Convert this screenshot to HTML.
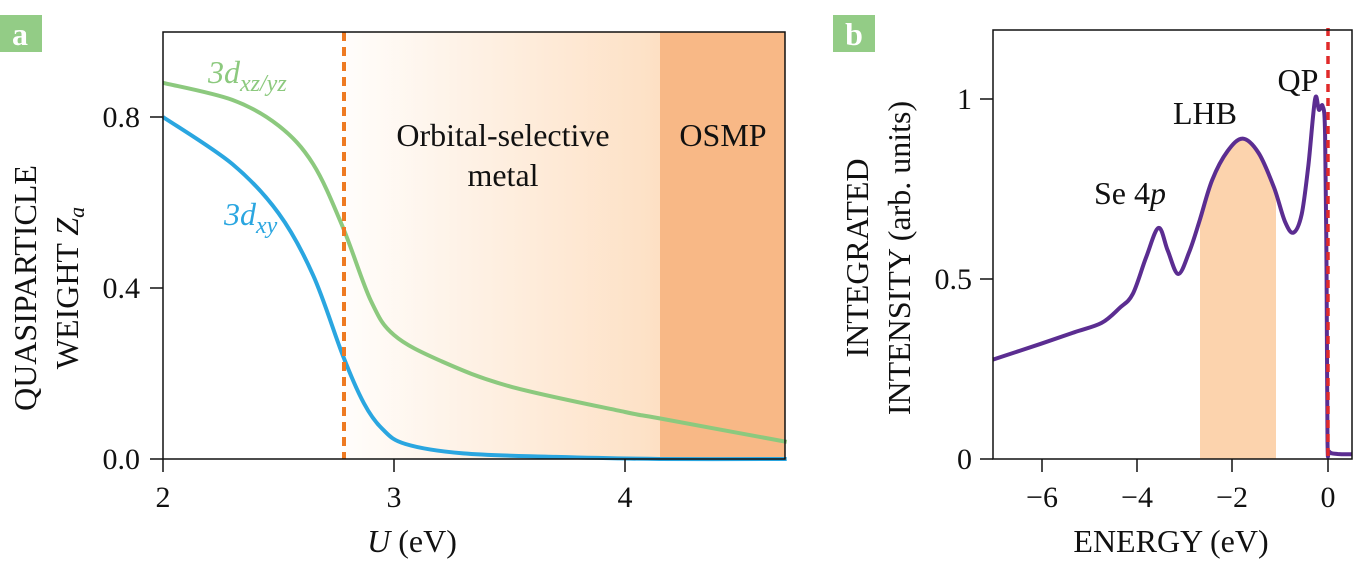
<!DOCTYPE html>
<html><head><meta charset="utf-8"><style>
html,body{margin:0;padding:0;background:#fff;}
svg{display:block;}
text{font-family:"Liberation Serif","Noto Serif CJK SC",serif;}
</style></head><body>
<svg id="s" width="1370" height="576" viewBox="0 0 1370 576" xmlns="http://www.w3.org/2000/svg">
<defs>
<linearGradient id="g" x1="0" x2="1" y1="0" y2="0">
<stop offset="0" stop-color="#fffdfb"/><stop offset="1" stop-color="#fde0c4"/>
</linearGradient>
<clipPath id="under"><path id="underp"/></clipPath>
</defs>
<rect x="344" y="32" width="316" height="427" fill="url(#g)"/>
<rect x="660" y="32" width="125" height="427" fill="#f8b886"/>
<path id="green" fill="none" stroke="#8cc97e" stroke-width="4"/>
<path id="blue" fill="none" stroke="#2aa6e0" stroke-width="4"/>
<line x1="344" y1="32" x2="344" y2="459" stroke="#ee7a22" stroke-width="4" stroke-dasharray="9,6"/>
<rect x="163" y="32" width="622" height="427" fill="none" stroke="#111" stroke-width="1.5"/>
<g stroke="#111" stroke-width="1.5">
<line x1="150" y1="459" x2="163" y2="459"/><line x1="150" y1="288" x2="163" y2="288"/><line x1="150" y1="117" x2="163" y2="117"/>
<line x1="163" y1="459" x2="163" y2="472"/><line x1="394" y1="459" x2="394" y2="472"/><line x1="625" y1="459" x2="625" y2="472"/>
</g>
<g font-size="30" fill="#111" text-anchor="end">
<text x="140" y="469">0.0</text><text x="140" y="298">0.4</text><text x="140" y="127">0.8</text>
</g>
<g font-size="30" fill="#111" text-anchor="middle">
<text x="163" y="507">2</text><text x="394" y="507">3</text><text x="625" y="507">4</text>
<text x="412" y="552" font-size="32"><tspan font-style="italic">U</tspan> (eV)</text>
</g>
<text font-size="32" fill="#111" text-anchor="middle" transform="translate(36,288) rotate(-90)">QUASIPARTICLE</text>
<text font-size="32" fill="#111" text-anchor="middle" transform="translate(78,288) rotate(-90)">WEIGHT <tspan font-style="italic">Z<tspan font-size="22" dy="6">a</tspan></tspan></text>
<text x="208" y="83" font-size="32" fill="#8cc97e" font-style="italic">3d<tspan font-size="24" dy="8">xz/yz</tspan></text>
<text x="224" y="225" font-size="32" fill="#2aa6e0" font-style="italic">3d<tspan font-size="24" dy="8">xy</tspan></text>
<g font-size="32" fill="#111" text-anchor="middle">
<text x="503" y="146">Orbital-selective</text><text x="503" y="186">metal</text>
<text x="723" y="146">OSMP</text>
</g>
<rect x="0" y="15" width="42" height="37" fill="#93cc86"/>
<text x="20" y="45" font-size="32" font-weight="bold" fill="#fff" text-anchor="middle">a</text>
<rect x="1200" y="32" width="76" height="427" fill="#fcd3ad" clip-path="url(#under)"/>
<path id="purple" fill="none" stroke="#5b2d91" stroke-width="4"/>
<line x1="1328" y1="28" x2="1328" y2="459" stroke="#e02a2a" stroke-width="3.5" stroke-dasharray="8,6"/>
<rect x="993" y="30" width="359" height="429" fill="none" stroke="#111" stroke-width="1.5"/>
<g stroke="#111" stroke-width="1.5">
<line x1="980" y1="459" x2="993" y2="459"/><line x1="980" y1="279" x2="993" y2="279"/><line x1="980" y1="99" x2="993" y2="99"/>
<line x1="1042" y1="459" x2="1042" y2="472"/><line x1="1137" y1="459" x2="1137" y2="472"/><line x1="1232" y1="459" x2="1232" y2="472"/><line x1="1328" y1="459" x2="1328" y2="472"/>
</g>
<g font-size="30" fill="#111" text-anchor="end">
<text x="972" y="469">0</text><text x="972" y="289">0.5</text><text x="972" y="109">1</text>
</g>
<g font-size="30" fill="#111" text-anchor="middle">
<text x="1042" y="507">−6</text><text x="1137" y="507">−4</text><text x="1232" y="507">−2</text><text x="1328" y="507">0</text>
<text x="1171" y="552" font-size="32">ENERGY (eV)</text>
</g>
<text font-size="32" fill="#111" text-anchor="middle" transform="translate(868,258) rotate(-90)">INTEGRATED</text>
<text font-size="32" fill="#111" text-anchor="middle" transform="translate(910,258) rotate(-90)">INTENSITY (arb. units)</text>
<g font-size="32" fill="#111" text-anchor="middle">
<text x="1130" y="204">Se 4<tspan font-style="italic">p</tspan></text>
<text x="1205" y="124">LHB</text>
<text x="1298" y="91">QP</text>
</g>
<rect x="833" y="15" width="42" height="37" fill="#93cc86"/>
<text x="854" y="45" font-size="32" font-weight="bold" fill="#fff" text-anchor="middle">b</text>
</svg>
<script>
function path(pts,fx,fy){
  var p=pts.map(function(a){return [fx(a[0]),fy(a[1])];});
  var d="M"+p[0][0].toFixed(1)+","+p[0][1].toFixed(1);
  for(var i=0;i<p.length-1;i++){
    var p0=p[i-1]||p[i],p1=p[i],p2=p[i+1],p3=p[i+2]||p2;
    var c1x=p1[0]+(p2[0]-p0[0])/6,c1y=p1[1]+(p2[1]-p0[1])/6;
    var c2x=p2[0]-(p3[0]-p1[0])/6,c2y=p2[1]-(p3[1]-p1[1])/6;
    d+=" C"+c1x.toFixed(1)+","+c1y.toFixed(1)+" "+c2x.toFixed(1)+","+c2y.toFixed(1)+" "+p2[0].toFixed(1)+","+p2[1].toFixed(1);
  }
  return d;
}
var ax=function(u){return 163+(u-2)*231;}, ay=function(z){return 459-z*427.5;};
document.getElementById("green").setAttribute("d",path([[2,0.88],[2.3,0.84],[2.5,0.78],[2.65,0.69],[2.78,0.54],[2.9,0.37],[3.0,0.29],[3.2,0.23],[3.5,0.17],[4.0,0.11],[4.15,0.095],[4.7,0.04]],ax,ay));
document.getElementById("blue").setAttribute("d",path([[2,0.80],[2.3,0.69],[2.5,0.575],[2.65,0.43],[2.78,0.24],[2.87,0.13],[2.95,0.07],[3.05,0.035],[3.3,0.013],[3.7,0.005],[4.15,0.0],[4.7,0]],ax,ay));
var bx=function(e){return 1328+e*47.87;}, by=function(v){return 459-v*360;};
var pd=path([[-7,0.276],[-6,0.32],[-5.3,0.352],[-4.73,0.378],[-4.35,0.42],[-4.08,0.458],[-3.8,0.56],[-3.54,0.642],[-3.35,0.58],[-3.13,0.514],[-2.9,0.575],[-2.68,0.663],[-2.42,0.775],[-2.1,0.855],[-1.78,0.89],[-1.45,0.85],[-1.13,0.755],[-0.9,0.66],[-0.72,0.629],[-0.55,0.68],[-0.41,0.816],[-0.27,1.0],[-0.19,0.97],[-0.11,0.98],[-0.06,0.9],[-0.03,0.5],[-0.01,0.05],[0.03,0.02],[0.2,0.014],[0.5,0.013]],bx,by);
document.getElementById("purple").setAttribute("d",pd);
document.getElementById("underp").setAttribute("d",pd+" L1352,459 L993,459 Z");
</script>
</body></html>
